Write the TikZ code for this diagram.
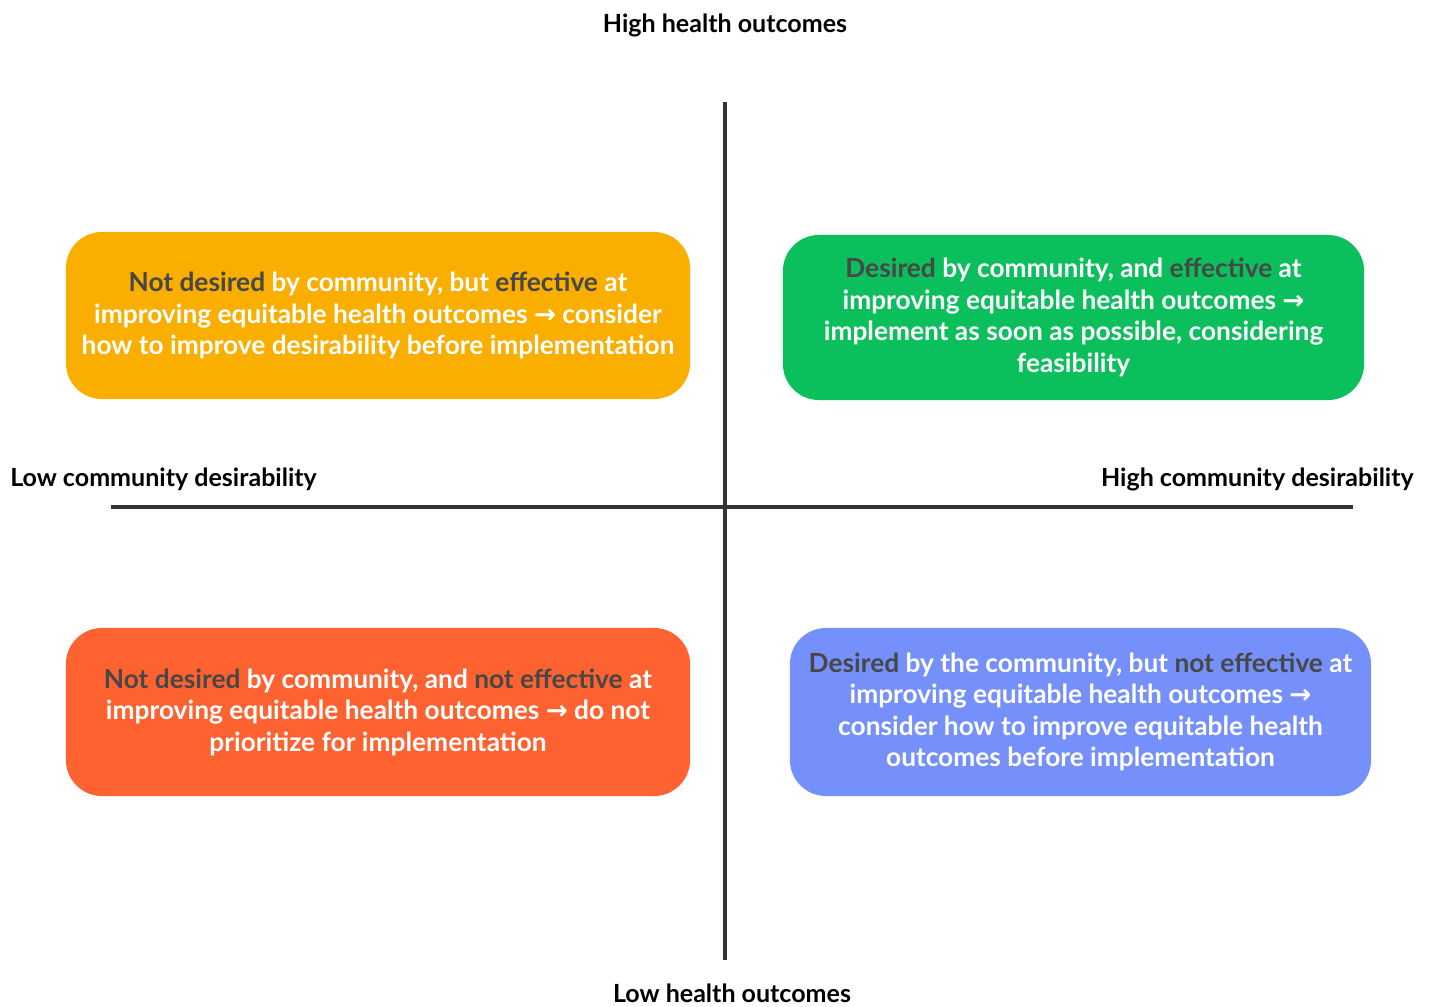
\documentclass[tikz,border=0pt]{standalone}
\usepackage{fontspec}
\setmainfont{Lato}
\newfontfamily\arrowFont{DejaVu Sans}
\usetikzlibrary{positioning}

\definecolor{boxOrange}{HTML}{F9AE00}
\definecolor{boxGreen}{HTML}{0BBF5C}
\definecolor{boxRed}{HTML}{FF6231}
\definecolor{boxBlue}{HTML}{7690FB}
\definecolor{darkText}{HTML}{474747}
\definecolor{axisGray}{HTML}{333333}

\newcommand{\dk}[1]{\textcolor{darkText}{#1}}
\newcommand{\arr}{{\arrowFont\char"2192}}

\tikzset{
  quadBox/.style={rounded corners=0.9cm, text=white, align=center,
    font=\fontsize{18.7}{22.4}\selectfont\bfseries, inner sep=0pt},
  axisLabel/.style={text=black, font=\fontsize{17.8}{20}\selectfont\bfseries, inner sep=0pt},
  axisLine/.style={draw=axisGray, line width=2.2pt}
}

\begin{document}
\begin{tikzpicture}[x=0.025cm,y=-0.025cm]
\useasboundingbox (0,0) rectangle (1429,1007);

% axes
\coordinate (top) at (725,102);
\coordinate (bottom) at (725,960);
\coordinate (left) at (111,507);
\coordinate (right) at (1353,507);
\draw[axisLine] (top) -- (bottom);
\draw[axisLine] (left) -- (right);

% axis labels
\node[axisLabel] (highHealth) at (725,25) {High health outcomes};
\node[axisLabel] (lowHealth) at (732,993) {Low health outcomes};
\node[axisLabel, anchor=west] (lowDes) at (10,479) {Low community desirability};
\node[axisLabel, anchor=east] (highDes) at (1414,479) {High community desirability};

% quadrants
\node[quadBox, fill=boxOrange, minimum width=15.6cm, minimum height=4.175cm] (notDesEff) at (378,315.5)
  {\dk{Not desired} by community, but \dk{effective} at\\
   improving equitable health outcomes \arr{} consider\\
   how to improve desirability before implementation};
\node[quadBox, fill=boxGreen, minimum width=14.525cm, minimum height=4.125cm] (desEff) at (1073.5,317.5)
  {\dk{Desired} by community, and \dk{effective} at\\
   improving equitable health outcomes \arr\\
   implement as soon as possible, considering\\
   feasibility};
\node[quadBox, fill=boxRed, minimum width=15.6cm, minimum height=4.2cm] (notDesNotEff) at (378,712)
  {\dk{Not desired} by community, and \dk{not effective} at\\
   improving equitable health outcomes \arr{} do not\\
   prioritize for implementation};
\node[quadBox, fill=boxBlue, minimum width=14.525cm, minimum height=4.2cm] (desNotEff) at (1080.5,712)
  {\dk{Desired} by the community, but \dk{not effective} at\\
   improving equitable health outcomes \arr\\
   consider how to improve equitable health\\
   outcomes before implementation};
\end{tikzpicture}
\end{document}
